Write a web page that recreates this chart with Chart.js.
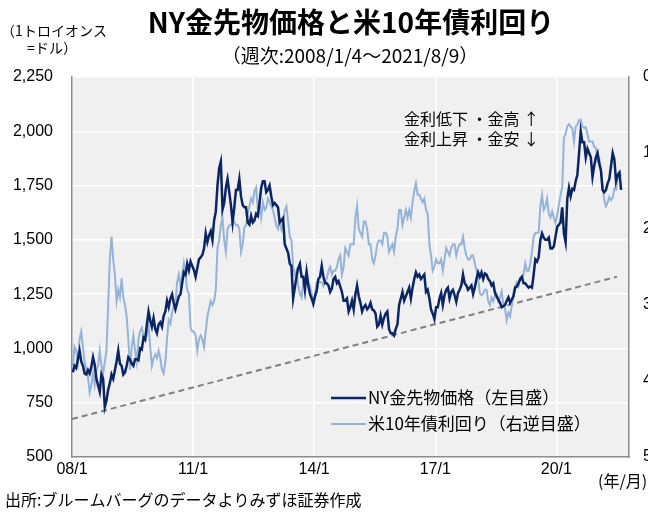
<!DOCTYPE html>
<html lang="ja">
<head>
<meta charset="utf-8">
<script src="https://cdn.jsdelivr.net/npm/chart.js@4.4.1/dist/chart.umd.min.js"></script>
<style>
  html, body { margin: 0; padding: 0; background: #fff; overflow: hidden; }
</style>
</head>
<body>
<canvas id="chart" width="648" height="513"></canvas>
<script>
// half-month readings, 2008/1 .. 2021/8 (two per month, last one = 8/9)
const startYear = 2008;

const goldPrice = [
  890, 920, 910, 950, 990, 940, 920, 885, 880, 900, 885, 915,
  960, 925, 860, 830, 800, 880, 860, 730, 760, 810, 840, 880,
  860, 900, 940, 990, 930, 920, 880, 890, 920, 960, 950, 930,
  920, 950, 950, 945, 1000, 995, 1050, 1040, 1110, 1170, 1130, 1100,
  1140, 1090, 1070, 1110, 1120, 1100, 1150, 1170, 1220, 1190, 1230, 1250,
  1210, 1180, 1210, 1240, 1250, 1300, 1350, 1340, 1390, 1360, 1400, 1380,
  1360, 1330, 1370, 1410, 1420, 1430, 1460, 1530, 1490, 1520, 1540, 1500,
  1590, 1630, 1750, 1830, 1860, 1640, 1670, 1740, 1780, 1720, 1660, 1580,
  1650, 1730, 1730, 1780, 1700, 1660, 1650, 1650, 1580, 1570, 1610, 1580,
  1590, 1620, 1610, 1670, 1740, 1770, 1770, 1720, 1730, 1750, 1700, 1660,
  1670, 1660, 1650, 1580, 1590, 1600, 1480, 1460, 1440, 1390, 1380, 1230,
  1280, 1330, 1370, 1390, 1330, 1330, 1270, 1350, 1290, 1250, 1230, 1205,
  1240, 1265, 1320, 1330, 1380, 1330, 1300, 1300, 1290, 1260, 1275, 1320,
  1330, 1300, 1310, 1285, 1260, 1220, 1220, 1230, 1170, 1190, 1220, 1180,
  1250, 1290, 1240, 1210, 1170, 1190, 1200, 1180, 1190, 1210, 1180, 1175,
  1160, 1100, 1110, 1150, 1110, 1140, 1160, 1170, 1090, 1070, 1070, 1060,
  1090, 1110, 1200, 1230, 1260, 1220, 1240, 1260, 1280, 1230, 1280, 1320,
  1350, 1330, 1340, 1320, 1330, 1340, 1260, 1270, 1230, 1180, 1160, 1135,
  1190, 1190, 1230, 1255, 1200, 1245, 1270, 1280, 1230, 1260, 1270, 1245,
  1215, 1255, 1270, 1290, 1340, 1300, 1290, 1270, 1280, 1290, 1250, 1280,
  1320, 1350, 1330, 1350, 1320, 1345, 1340, 1320, 1310, 1290, 1300, 1255,
  1240, 1225, 1210, 1190, 1195, 1200, 1220, 1235, 1210, 1225, 1240, 1280,
  1285, 1300, 1320, 1330, 1300, 1300, 1290, 1280, 1285, 1280, 1340, 1410,
  1400, 1420, 1500, 1530, 1510, 1500, 1500, 1510, 1460, 1460, 1470, 1515,
  1560, 1570, 1580, 1650, 1530, 1490, 1690, 1740, 1700, 1735, 1730, 1770,
  1800, 1900, 2000, 1950, 1950, 1880, 1920, 1900, 1880, 1790, 1840, 1880,
  1900, 1850, 1820, 1730, 1720, 1730, 1760, 1780, 1840, 1900, 1870, 1770,
  1800, 1810, 1730,
];

const ustYield = [
  3.8, 3.55, 3.6, 3.75, 3.45, 3.35, 3.55, 3.75, 3.85, 3.95, 4.15, 4.05,
  3.9, 4.05, 3.85, 3.8, 3.6, 3.8, 3.9, 3.75, 3.6, 3.0, 2.4, 2.1,
  2.4, 2.6, 2.95, 2.8, 2.9, 2.65, 2.9, 3.0, 3.15, 3.45, 3.85, 3.55,
  3.4, 3.6, 3.75, 3.45, 3.35, 3.3, 3.4, 3.45, 3.4, 3.25, 3.55, 3.8,
  3.7, 3.65, 3.7, 3.6, 3.7, 3.85, 3.9, 3.75, 3.45, 3.2, 3.25, 3.1,
  3.0, 3.0, 2.7, 2.6, 2.75, 2.6, 2.45, 2.6, 2.8, 2.85, 3.3, 3.35,
  3.35, 3.4, 3.6, 3.45, 3.4, 3.45, 3.55, 3.35, 3.15, 3.05, 2.95, 3.0,
  2.95, 2.8, 2.25, 2.15, 1.95, 1.85, 2.15, 2.3, 2.0, 1.95, 1.95, 1.9,
  1.9, 1.95, 1.95, 2.0, 2.3, 2.2, 1.98, 1.95, 1.8, 1.7, 1.6, 1.65,
  1.5, 1.45, 1.75, 1.65, 1.85, 1.65, 1.75, 1.72, 1.6, 1.65, 1.7, 1.75,
  1.85, 1.95, 2.0, 1.9, 2.0, 1.9, 1.75, 1.7, 1.9, 2.1, 2.15, 2.5,
  2.6, 2.55, 2.75, 2.85, 2.9, 2.7, 2.65, 2.55, 2.7, 2.75, 2.85, 2.97,
  2.85, 2.7, 2.7, 2.7, 2.7, 2.75, 2.7, 2.65, 2.55, 2.5, 2.6, 2.55,
  2.55, 2.5, 2.4, 2.35, 2.6, 2.5, 2.25, 2.3, 2.35, 2.2, 2.2, 2.2,
  1.85, 1.7, 2.0, 2.05, 2.1, 1.9, 1.9, 2.0, 2.2, 2.2, 2.4, 2.45,
  2.35, 2.2, 2.15, 2.15, 2.2, 2.05, 2.05, 2.1, 2.3, 2.25, 2.2, 2.3,
  2.1, 2.0, 1.75, 1.75, 1.95, 1.85, 1.75, 1.85, 1.75, 1.85, 1.65, 1.5,
  1.4, 1.55, 1.55, 1.6, 1.65, 1.6, 1.75, 1.8, 2.2, 2.35, 2.55, 2.5,
  2.4, 2.45, 2.45, 2.4, 2.55, 2.4, 2.25, 2.3, 2.35, 2.25, 2.2, 2.2,
  2.35, 2.25, 2.2, 2.2, 2.1, 2.25, 2.35, 2.4, 2.4, 2.35, 2.35, 2.45,
  2.55, 2.65, 2.85, 2.87, 2.85, 2.8, 2.8, 2.95, 3.0, 2.9, 2.95, 2.88,
  2.85, 2.95, 2.9, 2.82, 3.0, 3.05, 3.2, 3.1, 3.15, 3.0, 2.85, 2.75,
  2.7, 2.75, 2.65, 2.67, 2.6, 2.45, 2.55, 2.55, 2.45, 2.3, 2.1, 2.05,
  2.05, 2.05, 1.7, 1.55, 1.75, 1.7, 1.6, 1.8, 1.85, 1.77, 1.85, 1.92,
  1.82, 1.68, 1.55, 1.45, 0.8, 0.75, 0.65, 0.62, 0.65, 0.68, 0.85, 0.65,
  0.63, 0.57, 0.56, 0.65, 0.67, 0.66, 0.75, 0.85, 0.85, 0.85, 0.92, 0.93,
  1.1, 1.07, 1.2, 1.45, 1.62, 1.7, 1.65, 1.58, 1.62, 1.59, 1.47, 1.48,
  1.3, 1.25, 1.3,
];

// dashed support line (gold scale)
const trendYears = [2008.0, 2021.5];
const trendGold = [675, 1330];

const tickYears = [2008, 2011, 2014, 2017, 2020];
const tickLabels = ["08/1", "11/1", "14/1", "17/1", "20/1"];

const goldColor = "#0b2464";
const yieldColor = "#95b3d7";
const jp = "'Noto Sans CJK JP', sans-serif";
const num = "'Liberation Sans', Arial, sans-serif";

const halfMonthX = (i) => startYear + (i * 0.5 + 0.25) / 12;
const goldPoints = goldPrice.map((v, i) => ({ x: halfMonthX(i), y: v }));
const yieldPoints = ustYield.map((v, i) => ({ x: halfMonthX(i), y: v }));
const trendPoints = trendYears.map((x, i) => ({ x: x, y: trendGold[i] }));

const decor = {
  id: "decor",
  beforeDraw(chart) {
    const { ctx, chartArea: a } = chart;
    ctx.save();
    ctx.fillStyle = "#f0f0f0";
    ctx.fillRect(a.left, a.top, a.right - a.left, a.bottom - a.top);
    ctx.restore();
  },
  afterDraw(chart) {
    const ctx = chart.ctx;
    ctx.save();
    ctx.fillStyle = "#000";
    ctx.textBaseline = "middle";

    ctx.textAlign = "center";
    ctx.font = "bold 28px " + jp;
    ctx.fillText("NY金先物価格と米10年債利回り", 351, 22);
    ctx.font = "19px " + jp;
    ctx.fillText("（週次:2008/1/4～2021/8/9）", 350, 56);
    ctx.font = "14px " + jp;
    ctx.fillText("（1トロイオンス", 54, 31);
    ctx.fillText("=ドル）", 52, 48);

    ctx.textAlign = "left";
    ctx.font = "16px " + jp;
    ctx.fillText("(年/月)", 598, 481);
    ctx.fillText("出所:ブルームバーグのデータよりみずほ証券作成", 5, 500);
    ctx.fillText("金利低下 ・金高 ↑", 404, 119);
    ctx.fillText("金利上昇 ・金安 ↓", 404, 139);

    // legend
    const rows = [
      { label: chart.data.datasets[0].label, color: goldColor, w: 2.5, y: 398 },
      { label: chart.data.datasets[1].label, color: yieldColor, w: 2, y: 424 },
    ];
    ctx.font = "17px " + jp;
    rows.forEach((r) => {
      ctx.strokeStyle = r.color;
      ctx.lineWidth = r.w;
      ctx.beginPath();
      ctx.moveTo(331, r.y);
      ctx.lineTo(366, r.y);
      ctx.stroke();
      ctx.fillText(r.label, 368, r.y);
    });
    ctx.restore();
  },
};

const chart = document.querySelector("#chart").getContext("2d");

new Chart(chart, {
  type: "line",
  data: {
    datasets: [
      {
        label: "NY金先物価格（左目盛）",
        data: goldPoints,
        yAxisID: "y",
        borderColor: goldColor,
        borderWidth: 2.5,
        pointRadius: 0,
      },
      {
        label: "米10年債利回り（右逆目盛）",
        data: yieldPoints,
        yAxisID: "y2",
        borderColor: yieldColor,
        borderWidth: 2,
        pointRadius: 0,
      },
      {
        label: "trend",
        data: trendPoints,
        yAxisID: "y",
        borderColor: "#808080",
        borderWidth: 2,
        borderDash: [6, 4],
        pointRadius: 0,
      },
    ],
  },
  options: {
    responsive: false,
    animation: false,
    layout: { padding: { top: 77, left: 0, right: 0, bottom: 0 } },
    plugins: { legend: { display: false }, tooltip: { enabled: false } },
    scales: {
      x: {
        type: "linear",
        min: 2008,
        max: 2021.8,
        afterFit: (s) => { s.height = 56; },
        afterBuildTicks: (s) => { s.ticks = tickYears.map((v) => ({ value: v })); },
        ticks: {
          padding: 3,
          color: "#000",
          font: { family: num, size: 16 },
          callback: (v) => tickLabels[tickYears.indexOf(v)],
        },
        grid: { color: "#ffffff", lineWidth: 1.5, drawTicks: false },
        border: { color: "#8c8c8c", width: 1.5 },
      },
      y: {
        position: "left",
        min: 500,
        max: 2250,
        afterFit: (s) => { s.width = 72; },
        ticks: {
          stepSize: 250,
          padding: 19,
          color: "#000",
          font: { family: num, size: 16 },
          callback: (v) => v.toLocaleString("en-US"),
        },
        grid: { color: "#ffffff", lineWidth: 1.5, drawTicks: false },
        border: { color: "#8c8c8c", width: 1.5 },
      },
      y2: {
        position: "right",
        min: 0,
        max: 5,
        reverse: true,
        afterFit: (s) => { s.width = 19; },
        ticks: {
          stepSize: 1,
          padding: 14,
          color: "#000",
          font: { family: num, size: 16 },
        },
        grid: { display: false, drawTicks: false },
        border: { color: "#8c8c8c", width: 1.5 },
      },
    },
  },
  plugins: [decor],
});
</script>
</body>
</html>
